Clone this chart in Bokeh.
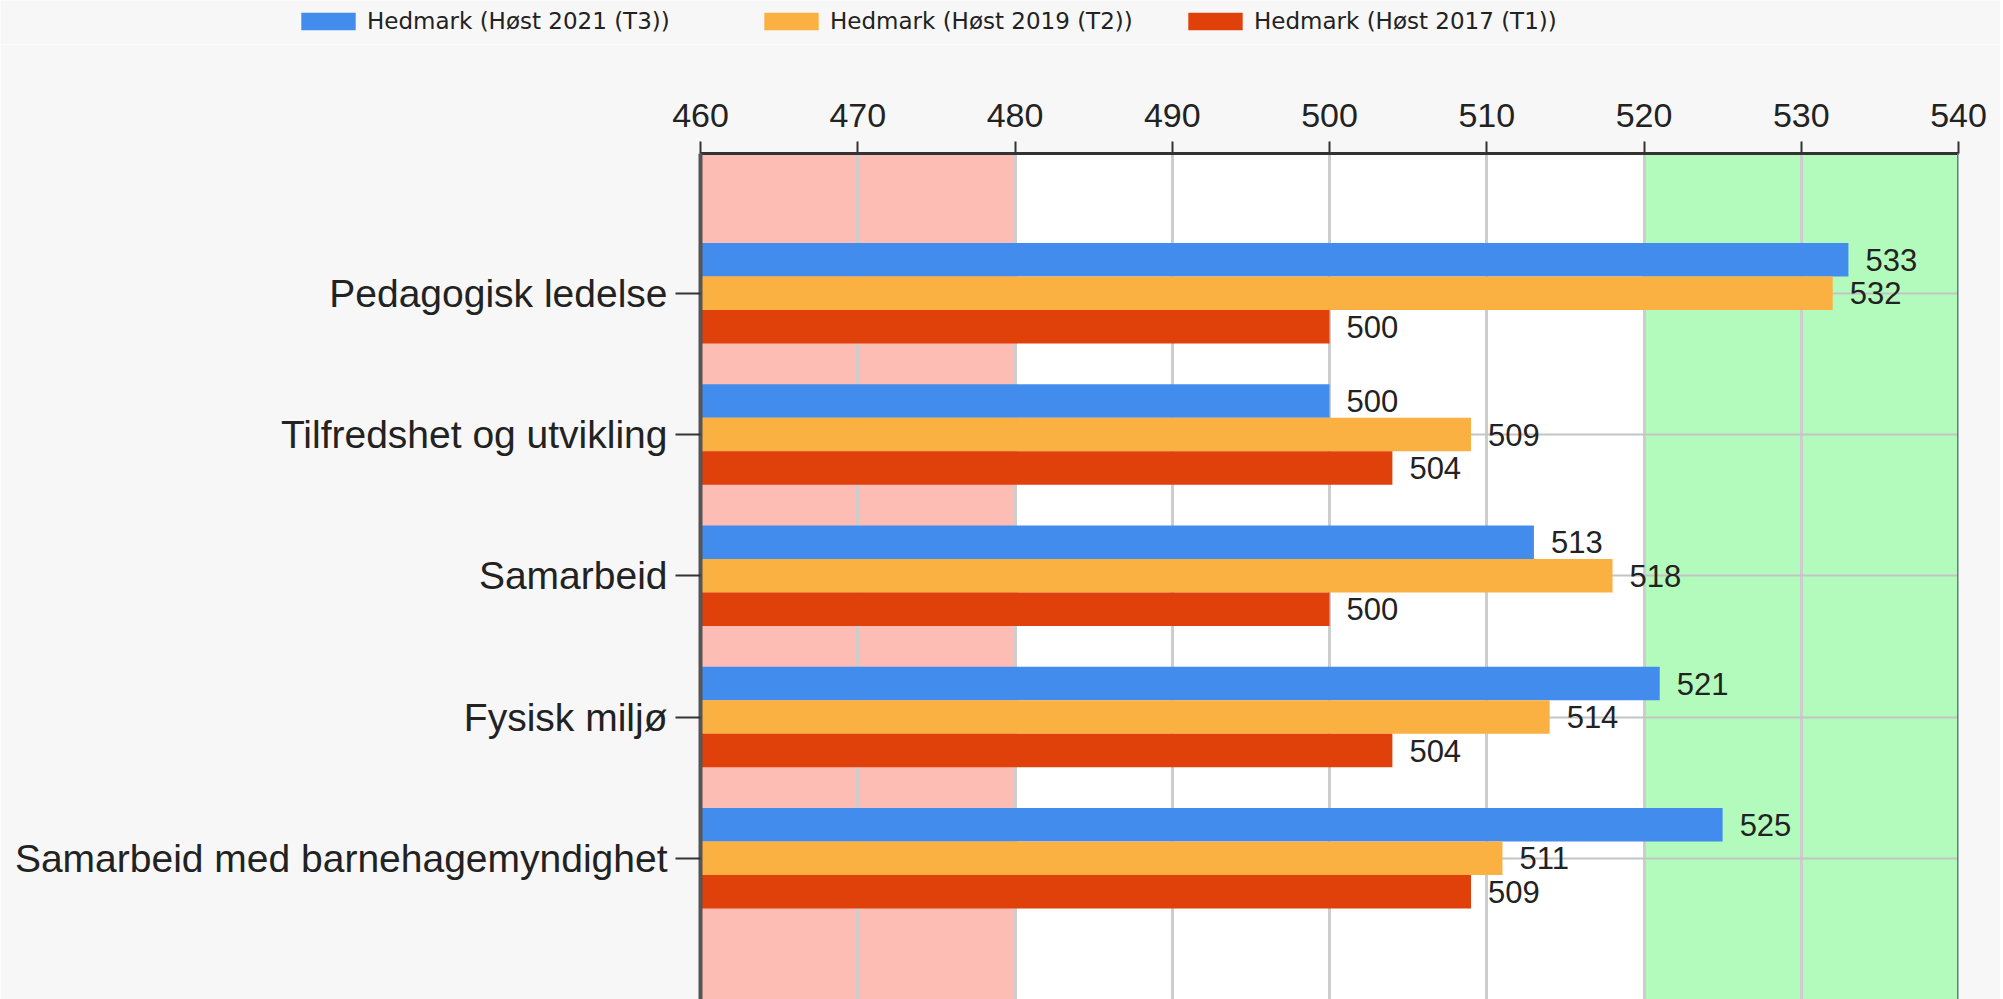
from bokeh.plotting import figure
from bokeh.models import (ColumnDataSource, Range1d, FixedTicker, LabelSet, BoxAnnotation,
                          Span, Legend, LegendItem)
from bokeh.core.properties import value
from bokeh.transform import dodge
from bokeh.embed import file_html
from bokeh.resources import INLINE

# ---- data ----
categories = ["Pedagogisk ledelse", "Tilfredshet og utvikling", "Samarbeid",
              "Fysisk miljø", "Samarbeid med barnehagemyndighet"]
t3_2021 = [533, 500, 513, 521, 525]
t2_2019 = [532, 509, 518, 514, 511]
t1_2017 = [500, 504, 500, 504, 509]
series_names = ["Hedmark (Høst 2021 (T3))", "Hedmark (Høst 2019 (T2))", "Hedmark (Høst 2017 (T1))"]
x_ticks = [460, 470, 480, 490, 500, 510, 520, 530, 540]
low_band = (460, 480)
high_band = (520, 540)

colors = ["#428cee", "#fbb141", "#e0410b"]
BG = "#f7f7f7"
TXT = "#222222"
idx = list(range(len(categories)))

src = ColumnDataSource(dict(idx=idx, cat=categories, t3=t3_2021, t2=t2_2019, t1=t1_2017,
                            l3=[str(v) for v in t3_2021], l2=[str(v) for v in t2_2019],
                            l1=[str(v) for v in t1_2017]))
fields = ["t3", "t2", "t1"]
lfields = ["l3", "l2", "l1"]

W = 2000
LEG_H = 44

# ---- legend strip (separate root, above the chart) ----
lf_ = figure(width=W, height=LEG_H, output_backend="svg", toolbar_location=None,
             x_range=Range1d(0, 1), y_range=Range1d(-10, -9), x_axis_type=None, y_axis_type=None,
             min_border_left=0, min_border_right=0, min_border_top=0, min_border_bottom=0)
lf_.background_fill_color = BG
lf_.border_fill_color = BG
lf_.outline_line_color = None
lf_.xgrid.visible = False
lf_.ygrid.visible = False
leg_x = [294, 757, 1181]
for name, f, c, lx in zip(series_names, fields, colors, leg_x):
    r = lf_.hbar(y="idx", left=460, right=f, height=0.5, source=src,
                 fill_color=c, line_color=None)
    lg = Legend(items=[LegendItem(label=name, renderers=[r])], location=(lx, 10),
                orientation="horizontal", padding=0, margin=0, border_line_color=None,
                background_fill_alpha=0, glyph_width=68, glyph_height=22, label_standoff=5,
                label_text_font="DejaVu Sans", label_text_font_size="23px",
                label_text_color=TXT, label_height=22)
    lf_.add_layout(lg)

# ---- main chart ----
p = figure(width=W, height=999 - LEG_H, output_backend="svg", toolbar_location=None,
           x_range=Range1d(460, 540), y_range=Range1d(5.0, -0.99),
           x_axis_location="above",
           min_border_left=700, min_border_right=W - 1958, min_border_top=153 - LEG_H,
           min_border_bottom=0)
p.background_fill_color = "white"
p.border_fill_color = BG
p.outline_line_color = None

# bands
p.add_layout(BoxAnnotation(left=low_band[0], right=low_band[1], fill_color="#fdbcb4",
                           fill_alpha=1, line_color=None, level="image"))
p.add_layout(BoxAnnotation(left=high_band[0], right=high_band[1], fill_color="#b3fbbc",
                           fill_alpha=1, line_color=None, level="image"))

bh = 0.237
offs = [-bh, 0.0, bh]
for f, lf, o, c in zip(fields, lfields, offs, colors):
    p.hbar(y=dodge("idx", o), left=460, right=f, height=bh, source=src,
           fill_color=c, line_color=None)
    p.add_layout(LabelSet(x=f, y=dodge("idx", o), text=lf, source=src, x_offset=17,
                          text_baseline="middle", text_font=value("Liberation Sans"),
                          text_font_size=value("31px"), text_color=TXT))

# right border
p.add_layout(Span(location=540, dimension="height", line_color="#66788a", line_width=3))

# axes
xa = p.xaxis[0]
xa.ticker = FixedTicker(ticks=x_ticks)
xa.major_label_text_font = "Liberation Sans"
xa.major_label_text_font_size = "34px"
xa.major_label_text_color = TXT
xa.major_label_standoff = 15
xa.major_tick_out = 12
xa.major_tick_in = 0
xa.minor_tick_out = 0
xa.minor_tick_in = 0
xa.major_tick_line_width = 2
xa.major_tick_line_color = "#333333"
xa.axis_line_width = 3
xa.axis_line_color = "#333333"

ya = p.yaxis[0]
ya.ticker = FixedTicker(ticks=idx)
ya.major_label_overrides = {i: c for i, c in zip(idx, categories)}
ya.major_label_text_font = "Liberation Sans"
ya.major_label_text_font_size = "39px"
ya.major_label_text_color = TXT
ya.major_label_standoff = 8
ya.major_tick_out = 25
ya.major_tick_in = 0
ya.minor_tick_out = 0
ya.minor_tick_in = 0
ya.major_tick_line_width = 2
ya.major_tick_line_color = "#333333"
ya.axis_line_width = 4
ya.axis_line_color = "#555555"

p.xgrid.ticker = FixedTicker(ticks=x_ticks)
p.xgrid.grid_line_color = "#cdcdcd"
p.xgrid.grid_line_width = 3
p.ygrid.ticker = FixedTicker(ticks=idx)
p.ygrid.grid_line_color = "#c4c4c4"
p.ygrid.grid_line_width = 2

open("out.html", "w").write(file_html([lf_, p], INLINE))
